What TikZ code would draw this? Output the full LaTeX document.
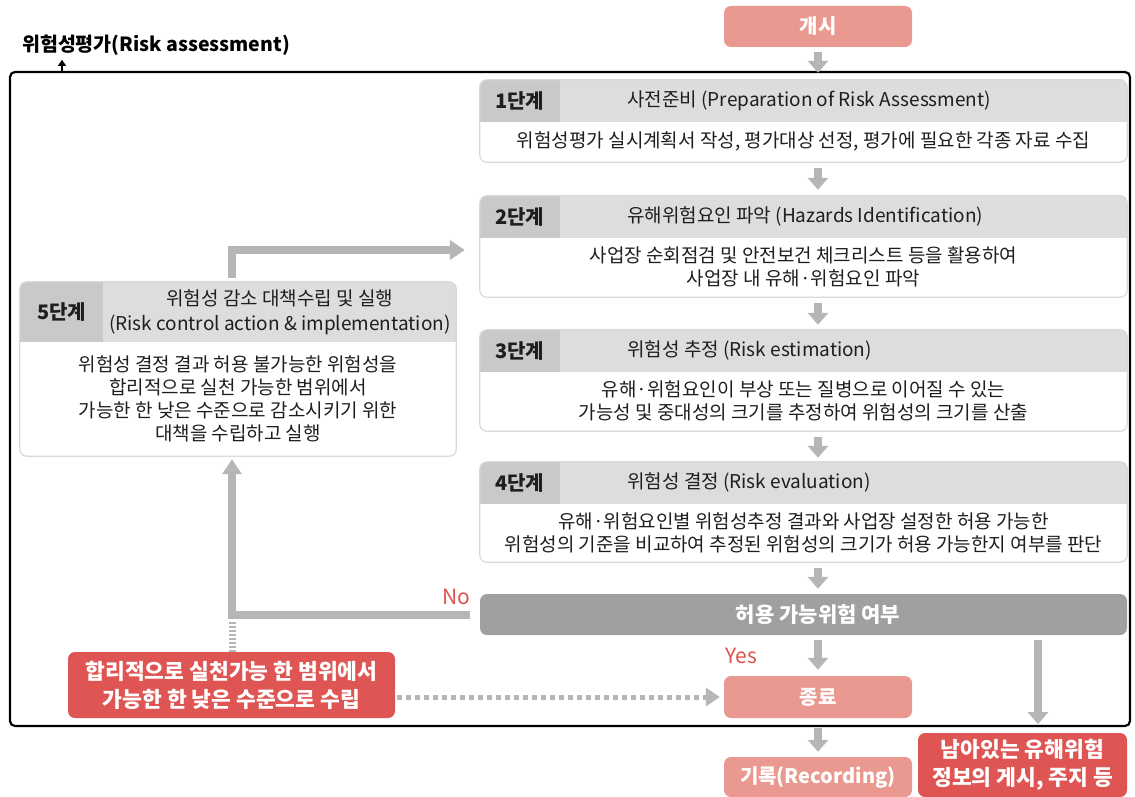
\documentclass[tikz,border=0pt]{standalone}
\usepackage{fontspec}
\setmainfont{Noto Sans CJK KR}
\usetikzlibrary{arrows.meta,calc}

\definecolor{salmon}{HTML}{E9998F}
\definecolor{alertred}{HTML}{DF5553}
\definecolor{arrowgray}{HTML}{B5B6B5}
\definecolor{decgray}{HTML}{A0A09F}
\definecolor{hdark}{HTML}{C9C9C9}
\definecolor{hlight}{HTML}{DDDDDD}
\definecolor{bordgray}{HTML}{D9D9D9}
\definecolor{txtdark}{HTML}{1E1E1E}
\definecolor{yesno}{HTML}{E0504F}

\begin{document}
\begin{tikzpicture}[x=1pt,y=-1pt,
  stageframe/.style={rectangle,inner sep=0pt,minimum width=647pt},
  steplabel/.style={font=\fontsize{20}{24}\selectfont\bfseries,text=txtdark},
  titletext/.style={font=\fontsize{19}{25}\selectfont,text=txtdark,align=center},
  bodytext/.style={font=\fontsize{19}{23}\selectfont,text=txtdark,align=center},
  termbox/.style={rectangle,rounded corners=7pt,fill=salmon,text=white,inner sep=0pt,
    minimum width=188pt,font=\fontsize{20}{24}\selectfont\bfseries},
  alertbox/.style={rectangle,rounded corners=7pt,fill=alertred,text=white,inner sep=0pt,
    align=center,font=\fontsize{21.5}{28}\selectfont\bfseries},
  flow/.style={draw=arrowgray,line width=8pt,-{Triangle[width=20pt,length=12pt]}},
  bigflow/.style={draw=arrowgray,line width=8pt,-{Triangle[width=19pt,length=15pt]}},
  answer/.style={text=yesno,font=\fontsize{21}{24}\selectfont}]

\useasboundingbox (0,0) rectangle (1135,797);

% outer frame and its title
\node[draw=black,line width=2.2pt,rounded corners=5pt,inner sep=0pt,
  minimum width=1120pt,minimum height=654pt] (frame) at (570,399) {};
\node[font=\fontsize{19.5}{24}\selectfont\bfseries] (ttl) at (156,45) {위험성평가(Risk assessment)};
\coordinate (ax) at (62,0);
\draw[line width=1.3pt,-{Triangle[width=8pt,length=6pt]}] (frame.north -| ax) -- ([yshift=-1pt]ttl.south -| ax);

% start, end, record
\node[termbox,minimum height=41pt] (start) at (818,26.5) {개시};
\node[termbox,minimum height=42pt] (end) at (818,697) {종료};
\node[termbox,minimum height=40pt] (rec) at (818,777) {기록(Recording)};

% stages 1 to 4
\foreach \n/\yt/\bh/\ttl/\bdy in {
  1/80/40/{사전준비 (Preparation of Risk Assessment)}/{위험성평가 실시계획서 작성, 평가대상 선정, 평가에 필요한 각종 자료 수집},
  2/196/59/{유해위험요인 파악 (Hazards Identification)}/{사업장 순회점검 및 안전보건 체크리스트 등을 활용하여\\사업장 내 유해·위험요인 파악},
  3/330/59/{위험성 추정 (Risk estimation)}/{유해·위험요인이 부상 또는 질병으로 이어질 수 있는\\가능성 및 중대성의 크기를 추정하여 위험성의 크기를 산출},
  4/462/58/{위험성 결정 (Risk evaluation)}/{유해·위험요인별 위험성추정 결과와 사업장 설정한 허용 가능한\\위험성의 기준을 비교하여 추정된 위험성의 크기가 허용 가능한지 여부를 판단}}
{
  \pgfmathsetmacro{\hh}{42+\bh}
  \node[stageframe,minimum height=\hh pt] (s\n) at (803.5,{\yt+\hh/2}) {};
  \begin{scope}
    \clip[rounded corners=7pt] (s\n.north west) rectangle (s\n.south east);
    \fill[hlight] (s\n.north west) rectangle ++(647,42);
    \fill[hdark] (s\n.north west) rectangle ++(80,42);
  \end{scope}
  \draw[bordgray,line width=1.2pt,rounded corners=7pt] (s\n.north west) rectangle (s\n.south east);
  \node[steplabel] (l\n) at ($(s\n.north west)+(40,21)$) {\n{}단계};
  \node[titletext,anchor=west] (t\n) at ($(s\n.north west)+(144,21)$) {\ttl};
  \node[bodytext] (d\n) at ($(s\n.north)+(0,{42+\bh/2})$) {\bdy};
}

% stage 5
\node[stageframe,minimum width=436pt,minimum height=174pt] (s5) at (238,369) {};
\begin{scope}
  \clip[rounded corners=7pt] (s5.north west) rectangle (s5.south east);
  \fill[hlight] (s5.north west) rectangle ++(436,60);
  \fill[hdark] (s5.north west) rectangle ++(83,60);
\end{scope}
\draw[bordgray,line width=1.2pt,rounded corners=7pt] (s5.north west) rectangle (s5.south east);
\node[steplabel] (l5) at ($(s5.north west)+(42,30)$) {5단계};
\node[titletext] (t5) at ($(s5.north west)+(260,30)$) {위험성 감소 대책수립 및 실행\\(Risk control action \& implementation)};
\node[bodytext] (d5) at ($(s5.north)+(0,117)$) {위험성 결정 결과 허용 불가능한 위험성을\\합리적으로 실천 가능한 범위에서\\가능한 한 낮은 수준으로 감소시키기 위한\\대책을 수립하고 실행};

% decision
\node[rectangle,rounded corners=7pt,fill=decgray,inner sep=0pt,
  minimum width=647pt,minimum height=41pt] (dec) at (803.5,614.5) {};
\node[text=white,font=\fontsize{21}{24}\selectfont\bfseries] (dtxt) at (818,614.5) {허용 가능위험 여부};

% alert boxes
\node[alertbox,minimum width=327pt,minimum height=66pt] (red) at (231.5,685) {합리적으로 실천가능 한 범위에서\\가능한 한 낮은 수준으로 수립};
\node[alertbox,minimum width=209pt,minimum height=64pt] (warn) at (1022.5,765) {남아있는 유해위험\\정보의 게시, 주지 등};

% arrows down the right column
\draw[flow,shorten <=5pt,shorten >=7pt] (start.south) -- (s1.north -| start);
\draw[flow,shorten <=6pt,shorten >=6pt] (s1.south -| start) -- (s2.north -| start);
\draw[flow,shorten <=6pt,shorten >=5pt] (s2.south -| start) -- (s3.north -| start);
\draw[flow,shorten <=6pt,shorten >=4pt] (s3.south -| start) -- (s4.north -| start);
\draw[flow,shorten <=6pt,shorten >=5pt] (s4.south -| start) -- (dec.north -| start);
\draw[flow,shorten <=5pt,shorten >=6pt] (dec.south -| start) -- (end.north);
\draw[flow,shorten <=10pt,shorten >=5pt] (end.south) -- (rec.north);
\coordinate (rx) at (1038,0);
\draw[flow,shorten <=5pt,shorten >=3pt] (dec.south -| rx) -- (frame.south -| rx);

% loop back through stage 5
\coordinate (lx) at (232,0);
\coordinate (ly) at (0,250);
\draw[bigflow,shorten <=10pt,shorten >=3pt] (dec.west) -| (s5.south -| lx);
\draw[bigflow,shorten >=15pt] ([yshift=4pt]s5.north -| lx) |- (s2.west |- ly);
\draw[arrowgray,line width=7pt,dash pattern=on 2pt off 2pt,shorten >=6pt] (red.north -| lx) -- (dec.west -| lx);
\draw[arrowgray,line width=5pt,dash pattern=on 5pt off 4pt,-{Triangle[width=18pt,length=14pt]},
  shorten <=2pt,shorten >=4pt] (red.east |- end) -- (end.west);

\node[answer] (no) at (456,597) {No};
\node[answer] (yes) at (741,656) {Yes};
\end{tikzpicture}
\end{document}
